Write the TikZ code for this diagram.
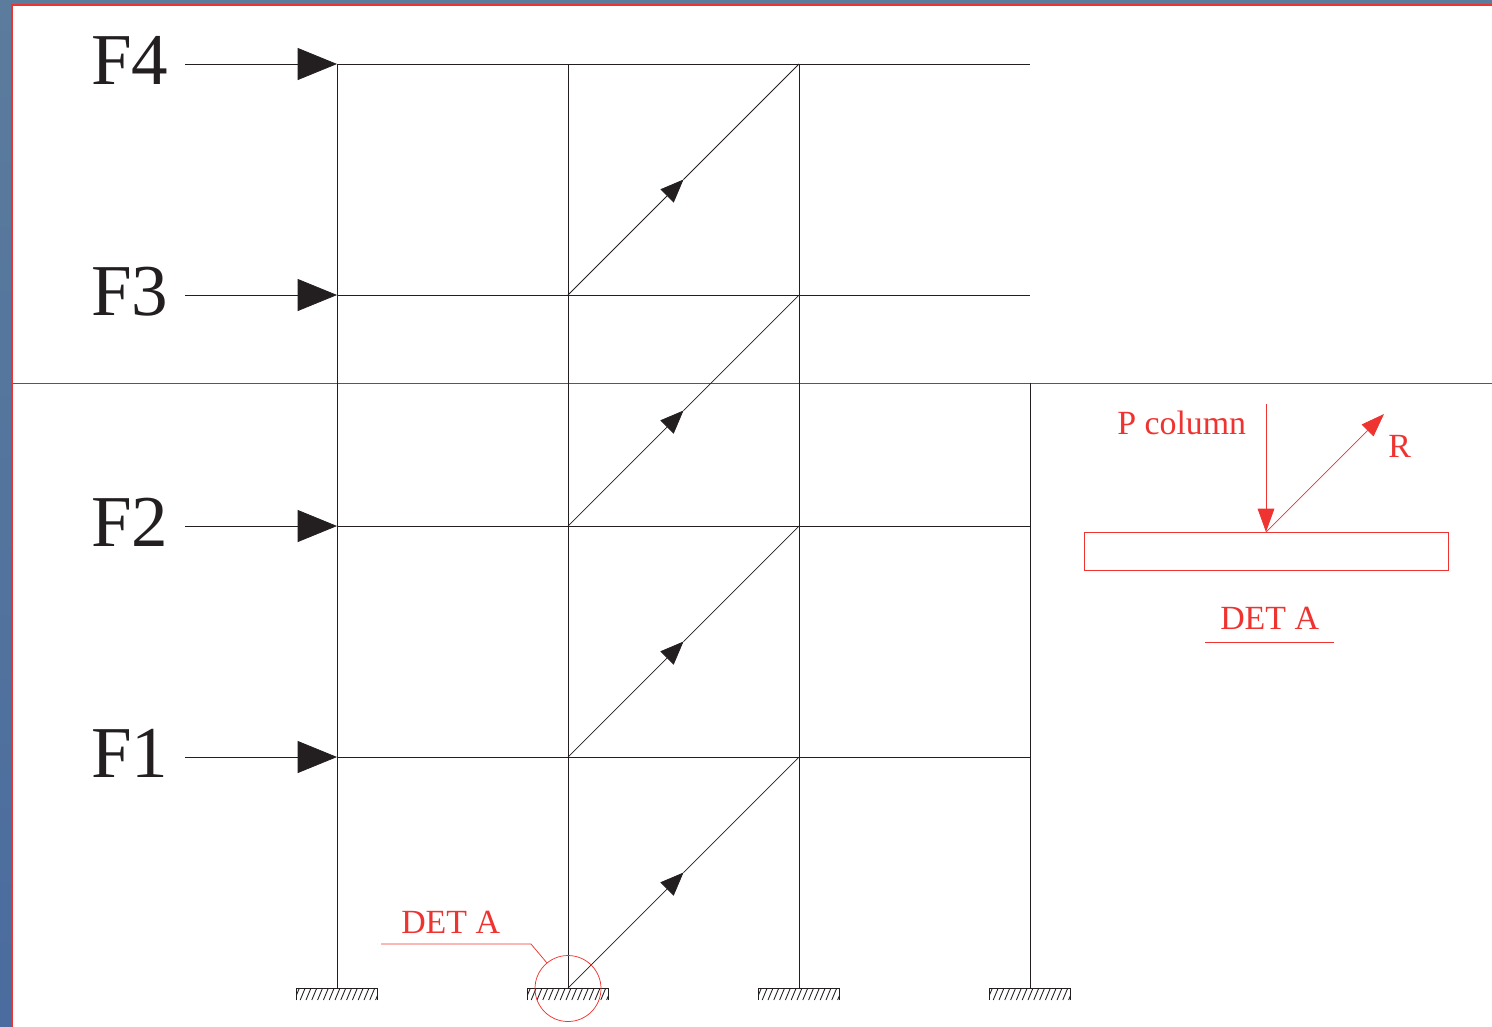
\documentclass[tikz,border=0pt]{standalone}
\usepackage{fontspec}
\setmainfont{Liberation Serif}
\usetikzlibrary{arrows.meta,calc}
\definecolor{inkblack}{HTML}{231F20}
\definecolor{detred}{HTML}{EE3330}
\definecolor{slidetop}{HTML}{5B7C9C}
\definecolor{slidebot}{HTML}{4A6C9E}
\tikzset{
  member/.style={draw=inkblack,line width=0.55pt},
  hatchline/.style={draw=inkblack,line width=0.65pt},
  forcearrow/.style={member,-{Triangle[length=29.5pt,width=24pt,inset=0pt,fill=inkblack]}},
  bracearrow/.style={member,-{Triangle[length=17.5pt,width=14pt,inset=0pt,fill=inkblack]}},
  redline/.style={draw=detred,line width=0.55pt},
  redarrow/.style={redline,-{Triangle[length=17.5pt,width=12.5pt,inset=0pt,fill=detred]}},
  forcelabel/.style={anchor=base west,inner sep=0pt,text=inkblack,font=\fontsize{54.8}{54.8}\selectfont},
  redlabel/.style={anchor=base west,inner sep=0pt,text=detred,font=\fontsize{25.4}{25.4}\selectfont},
  ground/.pic={
    \clip (-41,0) rectangle (40.6,12);
    \foreach \k in {-7,...,7} \draw[hatchline] ({\k*5.8-2},12) -- ({\k*5.8+3},0);
  }
}
\begin{document}
\begin{tikzpicture}[x=0.75pt,y=-0.75pt]
\useasboundingbox (0,0) rectangle (1492,1026);
\shade[top color=slidetop,bottom color=slidebot] (0,0) rectangle (1500,1034);
\fill[white] (12,5.5) rectangle (1500,1034);
\draw[detred,line width=1.8pt] (12,1034) -- (12,5) -- (1500,5);

% grid points
\foreach \xn/\x in {a/337,b/568,c/799,d/1030}
  \foreach \yn/\y in {4/64,3/295,2/526,1/757,0/988}
    \coordinate (\xn\yn) at (\x,\y);
\coordinate (d5) at (1030,383);
\coordinate (slabL) at (13,383);
\coordinate (slabR) at (1492,383);

% slab line
\draw[member,draw=inkblack!75] (slabL) -- (slabR);

% columns and beams
\draw[member] (a4) -- (a0);
\draw[member] (b4) -- (b0);
\draw[member] (c4) -- (c0);
\draw[member] (d5) -- (d0);
\foreach \n in {4,3,2,1} \draw[member] (a\n) -- (d\n);

% braces
\foreach \f/\t in {0/1,1/2,2/3,3/4}{
  \coordinate (m\f) at ($(b\f)!0.5!(c\t)$);
  \draw[bracearrow] (b\f) -- (m\f);
  \draw[member] (m\f) -- (c\t);
}

% forces
\foreach \n in {4,3,2,1}{
  \coordinate (s\n) at ($(a\n)+(-152,0)$);
  \draw[forcearrow] (s\n) -- (a\n);
  \node[forcelabel] (F\n) at ($(a\n)+(-246,20.5)$) {F\n};
}

% supports
\foreach \n in {a,b,c,d}{
  \begin{scope}
    \path (\n0) pic {ground};
  \end{scope}
  \draw[member] ($(\n0)+(-41,12)$) -- ($(\n0)+(-41,0)$) -- ($(\n0)+(40.6,0)$) -- ($(\n0)+(40.6,12)$);
}

% detail marker
\coordinate (circ) at (568,988.5);
\draw[redline] (circ) circle (33);
\coordinate (lead1) at (381,944);
\coordinate (lead2) at (531,944);
\coordinate (lead3) at (547,963);
\draw[redline] (lead1) -- (lead2) -- (lead3);
\node[redlabel] (detA) at (401,933) {DET A};

% detail A
\node[draw=detred,line width=0.55pt,minimum width=273pt,minimum height=28.5pt,inner sep=0pt,anchor=north west] (plate) at (1084,532) {};
\coordinate (ptop) at (1266,404);
\coordinate (pbot) at (1266,532);
\coordinate (rtip) at (1384,414);
\draw[redarrow] (ptop) -- (pbot);
\draw[redarrow] (pbot) -- (rtip);
\node[redlabel] (pcol) at (1117,434) {P column};
\node[redlabel] (rlab) at (1388,457) {R};
\node[redlabel] (detB) at (1220,629) {DET A};
\coordinate (ul1) at (1205,642);
\coordinate (ul2) at (1334,642);
\draw[redline] (ul1) -- (ul2);
\end{tikzpicture}
\end{document}
